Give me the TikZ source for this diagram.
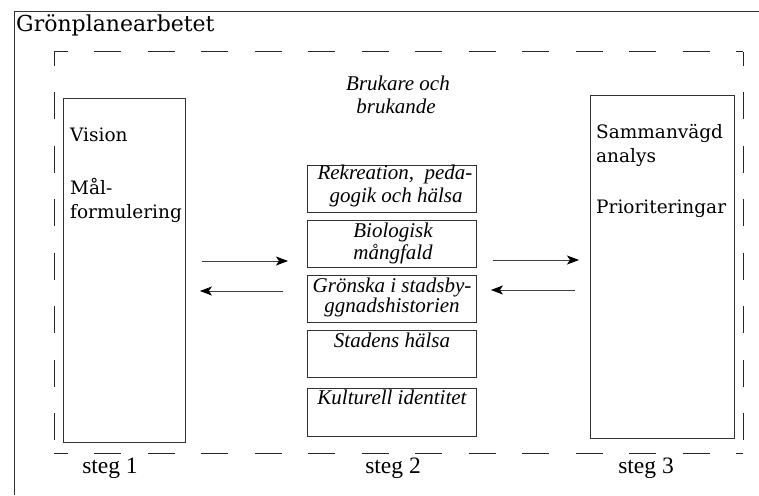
\documentclass[tikz,border=0pt]{standalone}
\usepackage{fontspec}
\setmainfont{DejaVu Serif}
\newfontfamily\timesf{Liberation Serif}
\usetikzlibrary{arrows.meta,calc}
\begin{document}
\begin{tikzpicture}[x=1pt,y=-1pt,
  box/.style={draw=black!80,line width=0.9pt,inner sep=0pt,anchor=north west},
  rom/.style={inner sep=0pt,anchor=base west,font=\fontsize{18.5}{22}\selectfont},
  itl/.style={inner sep=0pt,anchor=base,font=\timesf\itshape\fontsize{21}{24}\selectfont},
  steglbl/.style={inner sep=0pt,anchor=base,font=\timesf\fontsize{23.5}{26}\selectfont},
  dashside/.style={line width=1pt,black!85,dash pattern=on 27pt off 26.5pt,dash phase=13.5pt},
  arr/.style={line width=1pt,black!75,-{Stealth[length=12pt,width=9pt,inset=3pt,black]}}]
\useasboundingbox (0,0) rectangle (759,495);
% outer frame
\draw[line width=1pt,black!80] (14,495) -- (14,12) -- (759,12);
\node[inner sep=0pt,anchor=base west,font=\fontsize{22}{26}\selectfont] (title) at (16,32) {Grönplanearbetet};
% dashed frame
\coordinate (dnw) at (54,52);
\coordinate (dne) at (743,52);
\coordinate (dsw) at (54,453);
\coordinate (dse) at (743,453);
\draw[dashside] (dnw) -- (dne);
\draw[dashside] (dnw) -- (dsw);
\draw[dashside] (dsw) -- (dse);
\draw[dashside] (dne) -- (dse);
% step boxes
\node[box,minimum width=122pt,minimum height=344pt] (s1) at (63,98) {};
\node[box,minimum width=144pt,minimum height=343pt] (s3) at (590,95) {};
\node[rom] (vision) at (70,141) {Vision};
\node[rom] (mal) at (70,194) {Mål-};
\node[rom] (form) at (70,218) {formulering};
\node[rom] (samm) at (596,138) {Sammanvägd};
\node[rom] (anal) at (596,162) {analys};
\node[rom] (prio) at (596,213) {Prioriteringar};
% middle
\node[itl] (bruk1) at (398,90) {Brukare och};
\node[itl] (bruk2) at (396,113) {brukande};
\node[box,minimum width=169pt,minimum height=47pt] (b1) at (307,165) {};
\node[box,minimum width=169pt,minimum height=47pt] (b2) at (307,220) {};
\node[box,minimum width=169pt,minimum height=47pt] (b3) at (307,275) {};
\node[box,minimum width=169pt,minimum height=47pt] (b4) at (307,330) {};
\node[box,minimum width=169pt,minimum height=48pt] (b5) at (307,388) {};
\node[itl] (t1a) at (395,179) {Rekreation,\ \ peda-};
\node[itl] (t1b) at (396,202) {gogik och hälsa};
\node[itl] (t2a) at (393,237) {Biologisk};
\node[itl] (t2b) at (393,259) {mångfald};
\node[itl] (t3a) at (392,292) {Grönska i stadsby-};
\node[itl] (t3b) at (392,312) {ggnadshistorien};
\node[itl] (t4) at (392,347) {Stadens hälsa};
\node[itl] (t5) at (392,404) {Kulturell identitet};
% arrows
\coordinate (ya) at (0,261);
\coordinate (yb) at (0,291);
\coordinate (yc) at (0,260);
\coordinate (yd) at (0,290);
\draw[arr] ($(s1.east|-ya)+(16,0)$) -- ($(b3.west|-ya)+(-19,0)$);
\draw[arr] ($(b3.west|-yb)+(-24,0)$) -- ($(s1.east|-yb)+(14,0)$);
\draw[arr] ($(b3.east|-yc)+(16,0)$) -- ($(s3.west|-yc)+(-11,0)$);
\draw[arr] ($(s3.west|-yd)+(-15,0)$) -- ($(b3.east|-yd)+(14,0)$);
% step labels
\node[steglbl] (st1) at (110,473) {steg 1};
\node[steglbl] (st2) at (393,473) {steg 2};
\node[steglbl] (st3) at (646,473) {steg 3};
\end{tikzpicture}
\end{document}
